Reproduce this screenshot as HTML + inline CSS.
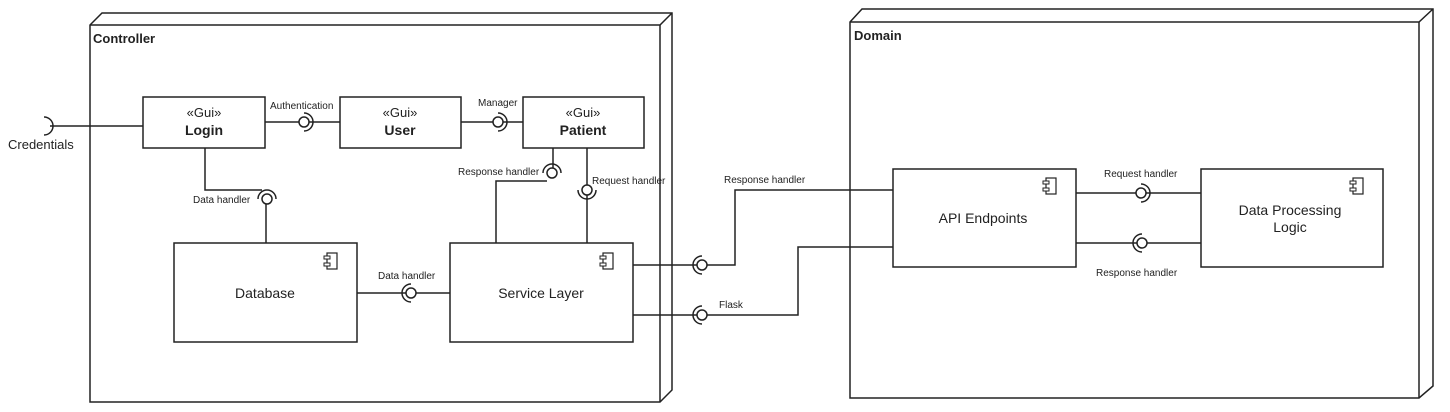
<!DOCTYPE html>
<html><head><meta charset="utf-8"><style>
html,body{margin:0;padding:0;background:#fff;width:1450px;height:412px;overflow:hidden}
svg{display:block}
text{font-family:"Liberation Sans",sans-serif;fill:#222}
</style></head><body>
<svg width="1450" height="412" viewBox="0 0 1450 412" xmlns="http://www.w3.org/2000/svg">
<defs>
<g id="ci"><rect x="0" y="0" width="10" height="16" fill="#fff" stroke="#222" stroke-width="1.2"/><rect x="-3" y="3" width="6" height="3" fill="#fff" stroke="#222"/><rect x="-3" y="10" width="6" height="3" fill="#fff" stroke="#222"/></g>
</defs>
<g fill="none" stroke="#222" stroke-width="1.5">
<!-- Controller node -->
<polygon points="90,25 102,13 672,13 672,390 660,402 90,402" fill="#fff"/>
<polyline points="90,25 660,25 672,13"/><line x1="660" y1="25" x2="660" y2="402"/>
<!-- Domain node -->
<polygon points="850,22 862,9 1433,9 1433,386 1419,398 850,398" fill="#fff"/>
<polyline points="850,22 1419,22 1433,9"/><line x1="1419" y1="22" x2="1419" y2="398"/>

<!-- connectors -->
<line x1="50" y1="126" x2="143" y2="126"/>
<path d="M44,117 A9,9 0 0 1 44,135"/>
<line x1="265" y1="122" x2="340" y2="122"/>
<line x1="461" y1="122" x2="523" y2="122"/>
<polyline points="205,148 205,190 262,190"/>
<line x1="266" y1="204" x2="266" y2="243"/>
<polyline points="496,243 496,181 547,181"/>
<line x1="553" y1="148" x2="553" y2="168"/>
<line x1="587" y1="148" x2="587" y2="185"/>
<line x1="587" y1="195" x2="587" y2="243"/>
<line x1="357" y1="293" x2="450" y2="293"/>
<line x1="633" y1="265" x2="697" y2="265"/>
<polyline points="707,265 735,265 735,190 893,190"/>
<line x1="633" y1="315" x2="697" y2="315"/>
<polyline points="707,315 798,315 798,247 893,247"/>
<line x1="1076" y1="193" x2="1201" y2="193"/>
<line x1="1076" y1="243" x2="1201" y2="243"/>

<!-- lollipops -->
<g fill="#fff">
<circle cx="304" cy="122" r="5"/><circle cx="498" cy="122" r="5"/>
<circle cx="267" cy="199" r="5"/><circle cx="552" cy="173" r="5"/>
<circle cx="587" cy="190" r="5"/><circle cx="411" cy="293" r="5"/>
<circle cx="702" cy="265" r="5"/><circle cx="702" cy="315" r="5"/>
<circle cx="1141" cy="193" r="5"/><circle cx="1142" cy="243" r="5"/>
</g>
<path d="M304,113 A9,9 0 0 1 304,131"/><path d="M498,113 A9,9 0 0 1 498,131"/>
<path d="M258,199 A9,9 0 0 1 276,199"/><path d="M543,173 A9,9 0 0 1 561,173"/>
<path d="M578,190 A9,9 0 0 0 596,190"/><path d="M411,302 A9,9 0 0 1 411,284"/>
<path d="M702,256 A9,9 0 0 0 702,274"/><path d="M702,306 A9,9 0 0 0 702,324"/>
<path d="M1141,202 A9,9 0 0 0 1141,184"/><path d="M1142,252 A9,9 0 0 1 1142,234"/>

<!-- boxes -->
<g fill="#fff">
<rect x="143" y="97" width="122" height="51"/>
<rect x="340" y="97" width="121" height="51"/>
<rect x="523" y="97" width="121" height="51"/>
<rect x="174" y="243" width="183" height="99"/>
<rect x="450" y="243" width="183" height="99"/>
<rect x="893" y="169" width="183" height="98"/>
<rect x="1201" y="169" width="182" height="98"/>
</g>
</g>
<use href="#ci" x="327" y="253"/><use href="#ci" x="603" y="253"/>
<use href="#ci" x="1046" y="178"/><use href="#ci" x="1353" y="178"/>

<g font-size="13" font-weight="bold">
<text x="93" y="43">Controller</text>
<text x="854" y="40">Domain</text>
</g>
<g text-anchor="middle">
<text x="204" y="117" font-size="13">«Gui»</text><text x="204" y="135" font-size="14" font-weight="bold">Login</text>
<text x="400" y="117" font-size="13">«Gui»</text><text x="400" y="135" font-size="14" font-weight="bold">User</text>
<text x="583" y="117" font-size="13">«Gui»</text><text x="583" y="135" font-size="14" font-weight="bold">Patient</text>
<text x="265" y="298" font-size="14">Database</text>
<text x="541" y="298" font-size="14">Service Layer</text>
<text x="983" y="223" font-size="14">API Endpoints</text>
<text x="1290" y="215" font-size="14">Data Processing</text>
<text x="1290" y="232" font-size="14">Logic</text>
</g>
<g font-size="10">
<text x="270" y="109">Authentication</text>
<text x="478" y="106">Manager</text>
<text x="193" y="203">Data handler</text>
<text x="458" y="175">Response handler</text>
<text x="592" y="184">Request handler</text>
<text x="378" y="279">Data handler</text>
<text x="724" y="183">Response handler</text>
<text x="719" y="308">Flask</text>
<text x="1104" y="177">Request handler</text>
<text x="1096" y="276">Response handler</text>
</g>
<text x="8" y="149" font-size="13">Credentials</text>
</svg>
</body></html>
